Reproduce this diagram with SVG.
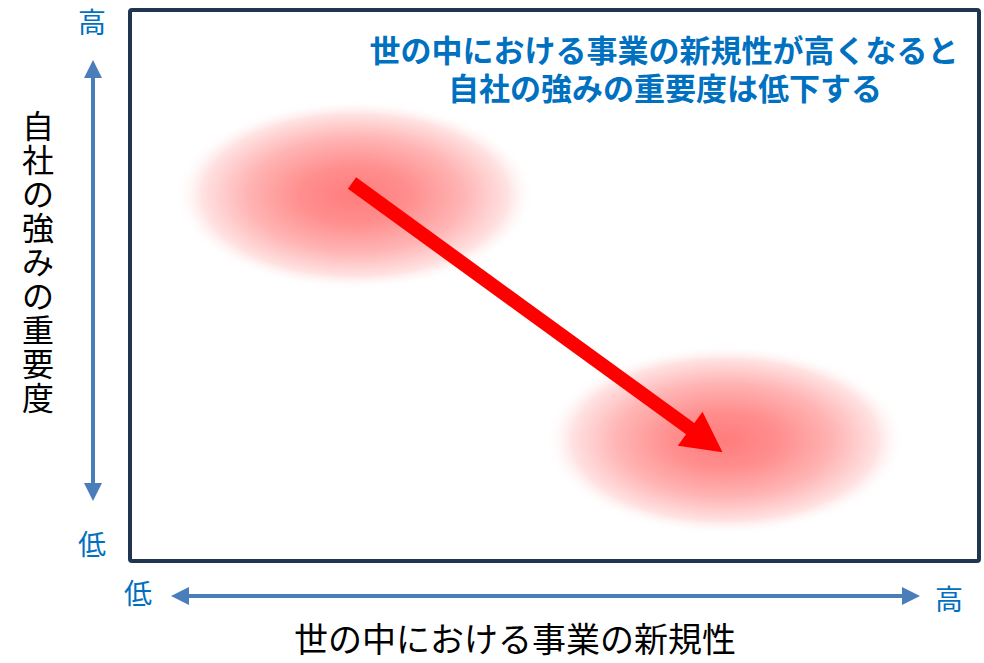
<svg xmlns="http://www.w3.org/2000/svg" width="984" height="663" viewBox="0 0 984 663">
<style>
.ax{stroke:#4a7ebb;stroke-width:4;fill:none}
.ah{fill:#4a7ebb}
.tick{font-family:"Noto Sans CJK JP",sans-serif;font-size:28px;fill:#0070c0;text-anchor:middle}
.lbl{font-family:"Noto Sans CJK JP",sans-serif;font-size:34px;fill:#000;text-anchor:middle}
.vl{font-family:"Noto Sans CJK JP",sans-serif;font-size:32px;fill:#000;text-anchor:middle}
.ttl{font-family:"Noto Sans CJK JP",sans-serif;font-size:31px;font-weight:bold;fill:#0070c0;text-anchor:middle}
</style>
<defs>
<radialGradient id="blob">
<stop offset="0" stop-color="#ff7c7c"/>
<stop offset="0.3" stop-color="#ff8e8e"/>
<stop offset="0.6" stop-color="#ffb4b4"/>
<stop offset="0.85" stop-color="#ffe2e2"/>
<stop offset="1" stop-color="#ffffff" stop-opacity="0"/>
</radialGradient>
</defs>
<rect width="984" height="663" fill="#fff"/>
<g id="frame"><rect x="130" y="10" width="849" height="551" rx="2" fill="#fff" stroke="#1f3550" stroke-width="4"/></g>
<g id="blob1"><ellipse cx="355" cy="195" rx="180" ry="95" fill="url(#blob)"/></g>
<g id="blob2"><ellipse cx="725" cy="440" rx="180" ry="95" fill="url(#blob)"/></g>
<g id="connectors">
<g transform="translate(352,183) rotate(36)"><polygon points="0,-7 418,-7 418,-21 458,0 418,21 418,7 0,7" fill="#ff0000"/></g>
<line class="ax" x1="93" y1="76" x2="93" y2="486"/>
<polygon class="ah" points="93,60 84,78 102,78"/>
<polygon class="ah" points="93,501 84,483 102,483"/>
<line class="ax" x1="186" y1="596" x2="906" y2="596"/>
<polygon class="ah" points="171,596 189,587 189,605"/>
<polygon class="ah" points="920,596 902,587 902,605"/>
</g>
<g id="title">
<text class="ttl" x="664" y="62">世の中における事業の新規性が高くなると</text>
<text class="ttl" x="665" y="100">自社の強みの重要度は低下する</text>
</g>
<g id="ticks">
<text class="tick" x="92" y="33">高</text>
<text class="tick" x="92" y="555">低</text>
<text class="tick" x="138" y="604">低</text>
<text class="tick" x="949" y="610">高</text>
</g>
<g id="ylabel">
<text class="vl"><tspan x="38" y="138">自</tspan><tspan x="38" dy="34">社</tspan><tspan x="38" dy="34">の</tspan><tspan x="38" dy="34">強</tspan><tspan x="38" dy="34">み</tspan><tspan x="38" dy="34">の</tspan><tspan x="38" dy="34">重</tspan><tspan x="38" dy="34">要</tspan><tspan x="38" dy="34">度</tspan></text>
</g>
<g id="xlabel"><text class="lbl" x="515" y="652">世の中における事業の新規性</text></g>
</svg>
